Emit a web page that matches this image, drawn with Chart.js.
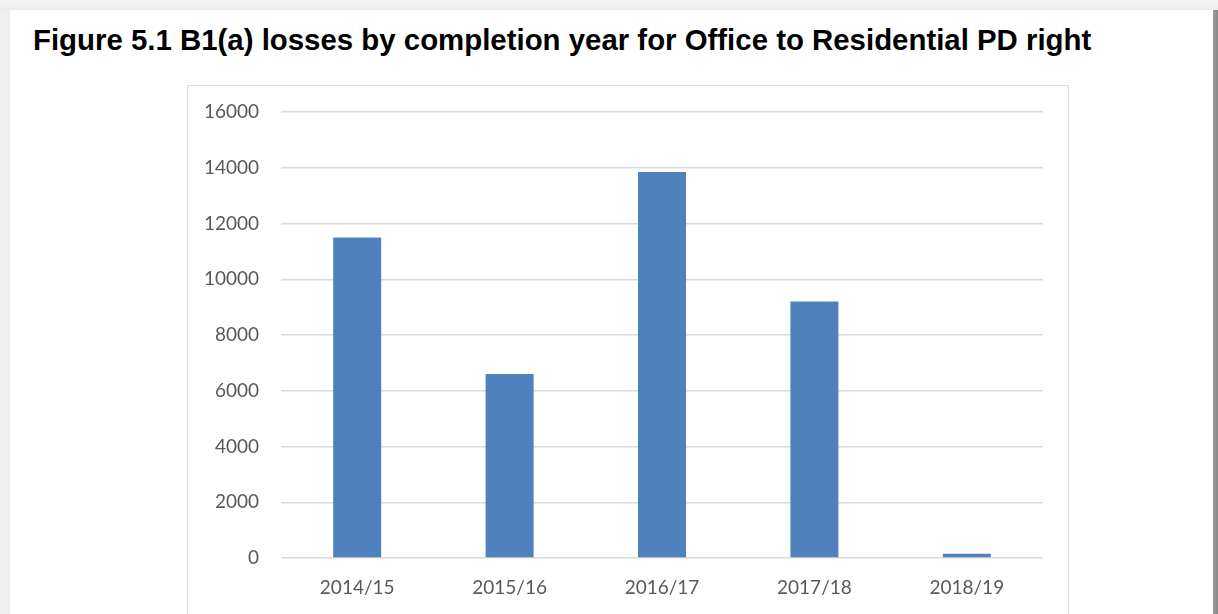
<!DOCTYPE html>
<html>
<head>
<meta charset="utf-8">
<script src="https://cdn.jsdelivr.net/npm/chart.js@4"></script>
<style>
  html, body { margin: 0; padding: 0; width: 1218px; height: 614px; overflow: hidden; background: #efefef; }
  #page { position: absolute; left: 10px; top: 10px; width: 1203px; height: 700px; background: #ffffff; }
  #shadow { position: absolute; left: 1213px; top: 10px; width: 5px; height: 700px; background: linear-gradient(to right, #9a9a9a, #8a8a8a); }
  #topshade { position: absolute; left: 0; top: 0; width: 1218px; height: 10px; background: linear-gradient(to bottom, #f4f4f4, #ececec); }
  #title { position: absolute; left: 33px; top: 25px; font-family: "Liberation Sans", Arial, sans-serif; font-weight: bold; font-size: 29.4px; line-height: 1; color: #000; white-space: nowrap; }
  #box { position: absolute; left: 187px; top: 85px; width: 882px; height: 600px; border: 1.5px solid #d9d9d9; box-sizing: border-box; }
  #wrap { position: absolute; left: 187px; top: 85px; width: 883px; height: 529px; }
</style>
</head>
<body>
<div id="topshade"></div>
<div id="page"></div>
<div id="shadow"></div>
<div id="title">Figure 5.1 B1(a) losses by completion year for Office to Residential PD right</div>
<div id="box"></div>
<div id="wrap"><canvas id="c" width="883" height="529"></canvas></div>
<script>
const categories = ["2014/15", "2015/16", "2016/17", "2017/18", "2018/19"];
const losses = [11500, 6600, 13850, 9200, 150];
const yTicks = [0, 2000, 4000, 6000, 8000, 10000, 12000, 14000, 16000];

new Chart(document.getElementById('c'), {
  type: 'bar',
  data: {
    labels: categories,
    datasets: [{
      data: losses,
      backgroundColor: '#4f81bd',
      borderWidth: 0,
      categoryPercentage: 1,
      barPercentage: 0.315
    }]
  },
  options: {
    responsive: false,
    animation: false,
    events: [],
    layout: { padding: { left: 0, right: 27, top: 27, bottom: 0 } },
    plugins: { legend: { display: false }, tooltip: { enabled: false }, title: { display: false } },
    scales: {
      x: {
        grid: { display: false },
        border: { display: false },
        ticks: { color: '#595959', font: { family: 'Lato', size: 19 }, padding: 10, maxRotation: 0 },
        afterFit: s => { s.height = 56; }
      },
      y: {
        min: 0, max: 16000,
        afterBuildTicks: s => { s.ticks = yTicks.map(v => ({ value: v })); },
        grid: { color: '#d9d9d9', lineWidth: 1.5, drawTicks: false },
        border: { display: false },
        ticks: { color: '#595959', font: { family: 'Lato', size: 19 }, padding: 22, callback: v => String(v) },
        afterFit: s => { s.width = 94; s.paddingTop = 0; s.paddingBottom = 0; }
      }
    }
  }
});
</script>
</body>
</html>
